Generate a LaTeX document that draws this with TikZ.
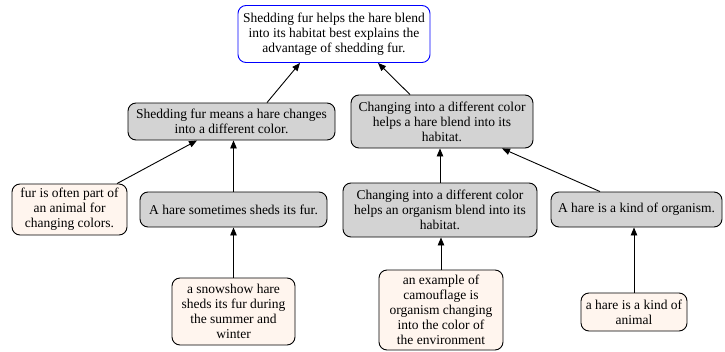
\documentclass[tikz,border=0pt]{standalone}
\usepackage{fontspec}
\setmainfont{Liberation Serif}
\usetikzlibrary{arrows.meta}
\definecolor{boxgray}{RGB}{211,211,211}
\definecolor{seashellc}{RGB}{255,245,238}
\begin{document}
\begin{tikzpicture}[x=1pt,y=-1pt,
  base/.style={draw=black, rounded corners=8pt, align=center, inner sep=0pt,
    font=\fontsize{13.5}{15}\selectfont, line width=0.9pt},
  hyp/.style={base, fill=boxgray},
  fact/.style={base, fill=seashellc},
  goal/.style={base, draw=blue, fill=white},
  edge/.style={-{Triangle[length=8pt,width=6.5pt]}, line width=0.9pt}]
\useasboundingbox (0,0) rectangle (725,351);
\node[goal, minimum width=192pt, minimum height=57pt] (top) at (334,34)
  {Shedding fur helps the hare blend\\into its habitat best explains the\\advantage of shedding fur.};
\node[hyp, minimum width=207pt, minimum height=37pt] (N1) at (231.5,121.5)
  {Shedding fur means a hare changes\\into a different color.};
\node[hyp, minimum width=182pt, minimum height=53pt] (N2) at (442,121.5)
  {Changing into a different color\\helps a hare blend into its\\habitat.};
\node[fact, minimum width=115pt, minimum height=51pt] (L1) at (69.5,209.5)
  {fur is often part of\\an animal for\\changing colors.};
\node[hyp, minimum width=187pt, minimum height=35pt] (N3) at (233.5,209.5)
  {A hare sometimes sheds its fur.};
\node[hyp, minimum width=194pt, minimum height=54pt] (N4) at (440,210)
  {Changing into a different color\\helps an organism blend into its\\habitat.};
\node[hyp, minimum width=171pt, minimum height=35pt] (N5) at (636.5,209.5)
  {A hare is a kind of organism.};
\node[fact, minimum width=123pt, minimum height=67pt] (L2) at (233.5,311.5)
  {a snowshow hare\\sheds its fur during\\the summer and\\winter};
\node[fact, minimum width=124pt, minimum height=80pt] (L3) at (441,310)
  {an example of\\camouflage is\\organism changing\\into the color of\\the environment};
\node[fact, minimum width=106pt, minimum height=38pt] (L4) at (634,312)
  {a hare is a kind of\\animal};
\draw[edge] ([xshift=35.5pt]N1.north) -- ([xshift=-34pt]top.south);
\draw[edge] ([xshift=-32pt]N2.north) -- ([xshift=44pt]top.south);
\draw[edge] ([xshift=47.5pt]L1.north) -- ([xshift=-34.5pt]N1.south);
\draw[edge] (N3.north) -- (N3.north |- N1.south);
\draw[edge] (N4.north) -- (N4.north |- N2.south);
\draw[edge] ([xshift=-36.5pt]N5.north) -- ([xshift=60pt]N2.south);
\draw[edge] (L2.north) -- (L2.north |- N3.south);
\draw[edge] (L3.north) -- (L3.north |- N4.south);
\draw[edge] (L4.north) -- (L4.north |- N5.south);
\end{tikzpicture}
\end{document}
